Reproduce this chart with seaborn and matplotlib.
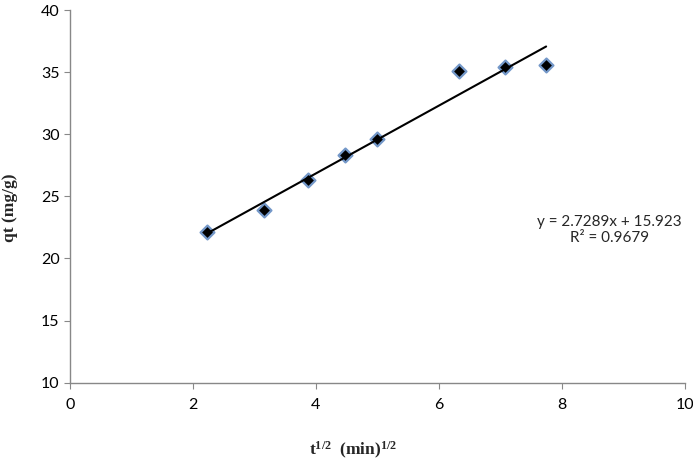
import numpy as np
import pandas as pd
import seaborn as sns
import matplotlib.pyplot as plt

# contact time (min) -> sqrt(t), and uptake qt (mg/g)
time_min = [5, 10, 15, 20, 25, 40, 50, 60]
qt = [22.1, 23.9, 26.3, 28.3, 29.6, 35.1, 35.4, 35.6]
slope, intercept, r2 = 2.7289, 15.923, 0.9679

df = pd.DataFrame({'sqrt_t': np.sqrt(time_min), 'qt': qt})

sns.set_style('white')
plt.rcParams['font.family'] = ['Lato', 'DejaVu Sans']
plt.rcParams['mathtext.fontset'] = 'custom'
plt.rcParams['mathtext.rm'] = 'Liberation Serif:bold'
plt.rcParams['mathtext.it'] = 'Liberation Serif:bold'
plt.rcParams['mathtext.bf'] = 'Liberation Serif:bold'

fig = plt.figure(figsize=(6.93, 4.61), dpi=100)
ax = fig.add_axes([0.101, 0.17, 0.887, 0.808])

sns.regplot(data=df, x='sqrt_t', y='qt', ax=ax, ci=None, marker='D',
            scatter_kws={'s': 50, 'color': 'black', 'edgecolors': '#7397C8',
                         'linewidths': 1.6, 'alpha': 1},
            line_kws={'color': 'black', 'linewidth': 1.5})

ax.set_xlim(0, 10)
ax.set_ylim(10, 40)
ax.set_xticks([0, 2, 4, 6, 8, 10])
ax.set_yticks([10, 15, 20, 25, 30, 35, 40])
ax.tick_params(axis='both', labelsize=11.5, colors='black', length=4,
               color='#888888', direction='out', left=True, bottom=True)
ax.tick_params(axis='x', pad=7)

for side in ['top', 'right']:
    ax.spines[side].set_visible(False)
for side in ['left', 'bottom']:
    ax.spines[side].set_color('#888888')
    ax.spines[side].set_linewidth(1)

ax.set_xlabel('t$^{1/2}$  (min)$^{1/2}$', family='Liberation Serif',
              fontweight='bold', fontsize=12.5)
ax.set_ylabel('qt (mg/g)', family='Liberation Serif', fontweight='bold',
              fontsize=12.5)
ax.xaxis.set_label_coords(0.46, -0.155)
ax.yaxis.set_label_coords(-0.085, 0.47)

ax.text(8.78, 22.3, f'y = {slope}x + {intercept}\nR² = {r2}', ha='center',
        va='center', multialignment='center', fontsize=11, linespacing=1.25)

fig.savefig('out.png', dpi=100)
